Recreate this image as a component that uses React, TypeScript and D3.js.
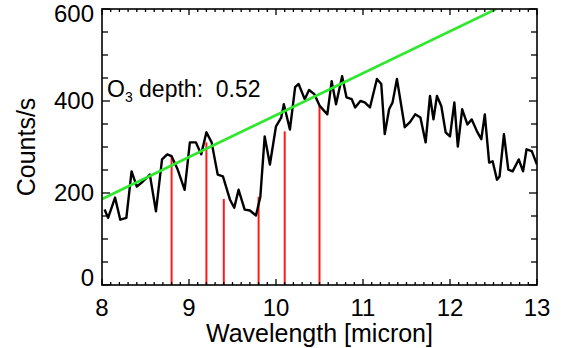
import React from "react";
import * as d3 from "d3";

const wavelengths = [
  8.03, 8.07, 8.15, 8.21, 8.28, 8.34, 8.4, 8.47, 8.55, 8.62, 8.69, 8.75, 8.8, 8.87, 8.95,
  9.01, 9.08, 9.14, 9.2, 9.26, 9.33, 9.39, 9.47, 9.52, 9.57, 9.64, 9.7, 9.77, 9.82, 9.87,
  9.93, 10.0, 10.06, 10.09, 10.16, 10.22, 10.26, 10.33, 10.38, 10.44, 10.5, 10.59, 10.64,
  10.69, 10.76, 10.81, 10.87, 10.91, 10.97, 11.02, 11.08, 11.16, 11.21, 11.25, 11.3, 11.34,
  11.39, 11.48, 11.54, 11.6, 11.66, 11.72, 11.77, 11.81, 11.85, 11.9, 11.95, 12.0, 12.05,
  12.09, 12.14, 12.2, 12.25, 12.31, 12.36, 12.4, 12.45, 12.49, 12.54, 12.57, 12.62, 12.67,
  12.72, 12.79, 12.84, 12.88, 12.94, 13.0,
];
const counts = [
  164, 146, 190, 142, 146, 247, 214, 225, 240, 160, 273, 284, 280, 251, 207,
  310, 310, 284, 332, 310, 240, 236, 186, 168, 207, 164, 162, 151, 192, 323,
  262, 345, 364, 393, 338, 430, 437, 404, 424, 415, 390, 371, 443,
  393, 454, 408, 404, 386, 400, 397, 386, 448, 437, 328, 382, 397,
  448, 343, 354, 371, 364, 310, 411, 360, 411, 389, 332, 323, 397,
  301, 382, 349, 360, 334, 317, 371, 266, 269, 229, 236, 328, 251,
  247, 273, 247, 295, 291, 262,
];

const lineWavelengths = [8.8, 9.2, 9.4, 9.8, 10.1, 10.5];
const lineHeights = [280, 310, 187, 192, 334, 389];

const continuumX = [8.0, 12.53];
const continuumY = [187, 600];

const xTicks = [8, 9, 10, 11, 12, 13];
const yTicks = [0, 200, 400, 600];

const W = 561;
const H = 348;
const left = 102;
const right = 537;
const top = 9;
const bottom = 285;

export default function App() {
  const x = d3.scaleLinear().domain([8, 13]).range([left, right]);
  const y = d3.scaleLinear().domain([0, 600]).range([bottom, top]);

  const spectrum = d3
    .line<number>()
    .x((_, i) => x(wavelengths[i]))
    .y((d) => y(d))(counts) as string;

  const cont = d3
    .line<number>()
    .x((_, i) => x(continuumX[i]))
    .y((d) => y(d))(continuumY) as string;

  const xMinor = d3.range(80, 131).map((v) => v / 10).filter((v) => !xTicks.includes(v));
  const yMinor = d3.range(0, 601, 50).filter((v) => !yTicks.includes(v));

  const font = "'Liberation Sans', Arial, Helvetica, sans-serif";

  // y label baseline: centred on tick, but kept inside the frame at the ends
  const yLabelBaseline = (t: number) =>
    Math.min(bottom + 1, Math.max(top + 13, y(t) + 8));

  return (
    <svg
      width={W}
      height={H}
      style={{ position: "absolute", left: 0, top: 0, background: "#fff" }}
    >
      <rect x={0} y={0} width={W} height={H} fill="#fff" />
      <defs>
        <clipPath id="plotclip">
          <rect x={left} y={top} width={right - left} height={bottom - top} />
        </clipPath>
      </defs>

      {/* red absorption lines */}
      {lineWavelengths.map((w, i) => (
        <line
          key={"r" + i}
          x1={x(w)}
          x2={x(w)}
          y1={y(0)}
          y2={y(lineHeights[i])}
          stroke="#ff1a1a"
          strokeWidth={2}
        />
      ))}

      {/* spectrum */}
      <path
        d={spectrum}
        fill="none"
        stroke="#000"
        strokeWidth={2.4}
        strokeLinejoin="round"
        clipPath="url(#plotclip)"
      />

      {/* continuum */}
      <path
        d={cont}
        fill="none"
        stroke="#2ee82e"
        strokeWidth={2.6}
        clipPath="url(#plotclip)"
      />

      {/* frame */}
      <rect
        x={left}
        y={top}
        width={right - left}
        height={bottom - top}
        fill="none"
        stroke="#000"
        strokeWidth={1.6}
      />

      {/* x ticks */}
      {xTicks.map((t) => (
        <g key={"xt" + t}>
          <line x1={x(t)} x2={x(t)} y1={bottom} y2={bottom - 6} stroke="#000" strokeWidth={1.3} />
          <line x1={x(t)} x2={x(t)} y1={top} y2={top + 6} stroke="#000" strokeWidth={1.3} />
        </g>
      ))}
      {xMinor.map((t) => (
        <g key={"xm" + t}>
          <line x1={x(t)} x2={x(t)} y1={bottom} y2={bottom - 3} stroke="#000" strokeWidth={1.3} />
          <line x1={x(t)} x2={x(t)} y1={top} y2={top + 3} stroke="#000" strokeWidth={1.3} />
        </g>
      ))}

      {/* y ticks */}
      {yTicks.map((t) => (
        <g key={"yt" + t}>
          <line x1={left} x2={left + 8} y1={y(t)} y2={y(t)} stroke="#000" strokeWidth={1.3} />
          <line x1={right} x2={right - 8} y1={y(t)} y2={y(t)} stroke="#000" strokeWidth={1.3} />
        </g>
      ))}
      {yMinor.map((t) => (
        <g key={"ym" + t}>
          <line x1={left} x2={left + 6} y1={y(t)} y2={y(t)} stroke="#000" strokeWidth={1.3} />
          <line x1={right} x2={right - 6} y1={y(t)} y2={y(t)} stroke="#000" strokeWidth={1.3} />
        </g>
      ))}

      {/* x tick labels */}
      {xTicks.map((t) => (
        <text
          key={"xl" + t}
          x={x(t)}
          y={316}
          textAnchor="middle"
          fontFamily={font}
          fontSize={24}
          fill="#000"
        >
          {t}
        </text>
      ))}

      {/* y tick labels */}
      {yTicks.map((t) => (
        <text
          key={"yl" + t}
          x={94}
          y={yLabelBaseline(t)}
          textAnchor="end"
          fontFamily={font}
          fontSize={24}
          fill="#000"
        >
          {t}
        </text>
      ))}

      {/* axis titles */}
      <text
        x={(left + right) / 2}
        y={342}
        textAnchor="middle"
        fontFamily={font}
        fontSize={25}
        fill="#000"
      >
        Wavelength [micron]
      </text>
      <text
        transform={`translate(35, ${(top + bottom) / 2}) rotate(-90)`}
        textAnchor="middle"
        fontFamily={font}
        fontSize={25}
        fill="#000"
      >
        Counts/s
      </text>

      {/* annotation */}
      <text x={107} y={97} fontFamily={font} fontSize={23} fill="#000" style={{ whiteSpace: "pre" }}>
        O
        <tspan fontSize={14} dy={5}>3</tspan>
        <tspan dy={-5}>{" depth:  0.52"}</tspan>
      </text>
    </svg>
  );
}
